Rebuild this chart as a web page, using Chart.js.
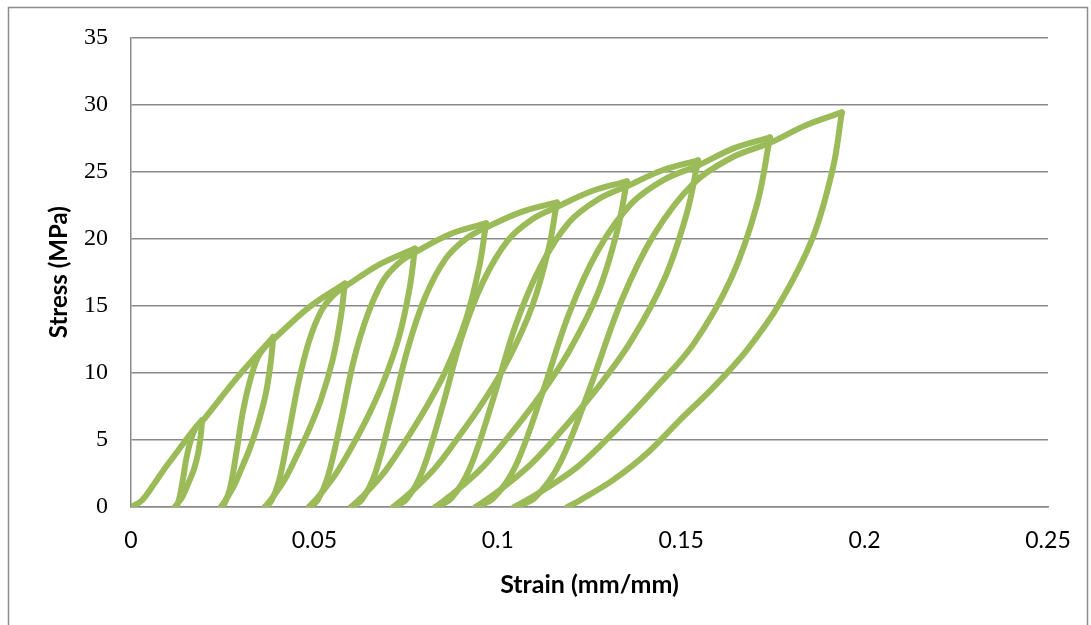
<!DOCTYPE html>
<html>
<head>
<meta charset="utf-8">
<script src="https://cdn.jsdelivr.net/npm/chart.js@4.4.1/dist/chart.umd.min.js"></script>
<style>
  html, body { margin: 0; padding: 0; background: #fff; }
  #wrap { position: relative; width: 1091px; height: 625px; }
</style>
</head>
<body>
<div id="wrap"><canvas id="chart" width="1091" height="625"></canvas></div>
<script>
// tick labels
const strainTicks = [0, 0.05, 0.1, 0.15, 0.2, 0.25];
const stressTicks = [0, 5, 10, 15, 20, 25, 30, 35];

// cyclic loading, one loop per cycle (reload up to peak, then unload)
const strain1 = [0, 0.003, 0.006, 0.009, 0.012, 0.015, 0.0175, 0.0194, 0.0190, 0.0183, 0.0172, 0.0161, 0.0150, 0.0139, 0.0127, 0.0120];
const stress1 = [0, 0.5, 1.6, 2.8, 3.9, 5.0, 5.9, 6.48, 5.31, 4.02, 2.85, 2.07, 1.36, 0.71, 0.26, 0];

const strain2 = [0.0120, 0.0126, 0.0133, 0.0142, 0.0151, 0.0161, 0.0172, 0.0183, 0.0194, 0.0291, 0.0388, 0.0381, 0.0367, 0.0345, 0.0324, 0.0302, 0.0281, 0.0259, 0.0245];
const stress2 = [0, 0.16, 0.78, 2.14, 3.63, 4.80, 5.67, 6.12, 6.38, 9.7, 12.68, 10.78, 8.37, 6.09, 4.37, 2.92, 1.59, 0.57, 0];

const strain3 = [0.0245, 0.0256, 0.0271, 0.0288, 0.0305, 0.0324, 0.0345, 0.0367, 0.0388, 0.0486, 0.0583, 0.0572, 0.0550, 0.0518, 0.0485, 0.0452, 0.0420, 0.0387, 0.0365];
const stress3 = [0, 0.32, 1.52, 4.18, 7.10, 9.38, 11.10, 11.98, 12.49, 14.9, 16.66, 14.16, 11.00, 8.00, 5.75, 3.83, 2.08, 0.75, 0];

const strain4 = [0.0365, 0.0382, 0.0404, 0.0430, 0.0457, 0.0485, 0.0518, 0.0550, 0.0583, 0.0679, 0.0774, 0.0760, 0.0731, 0.0687, 0.0644, 0.0601, 0.0557, 0.0514, 0.0485];
const stress4 = [0, 0.42, 2.00, 5.50, 9.33, 12.33, 14.58, 15.74, 16.41, 18.1, 19.26, 16.37, 12.71, 9.24, 6.64, 4.43, 2.41, 0.87, 0];

const strain5 = [0.0485, 0.0508, 0.0537, 0.0572, 0.0606, 0.0644, 0.0687, 0.0731, 0.0774, 0.0871, 0.0968, 0.0950, 0.0913, 0.0858, 0.0802, 0.0747, 0.0692, 0.0637, 0.0600];
const stress5 = [0, 0.48, 2.31, 6.36, 10.79, 14.25, 16.85, 18.20, 18.97, 20.35, 21.15, 17.98, 13.96, 10.15, 7.30, 4.86, 2.64, 0.95, 0];

const strain6 = [0.0600, 0.0629, 0.0666, 0.0710, 0.0755, 0.0802, 0.0858, 0.0913, 0.0968, 0.1065, 0.1161, 0.1139, 0.1094, 0.1027, 0.0960, 0.0893, 0.0827, 0.0760, 0.0715];
const stress6 = [0, 0.53, 2.54, 6.98, 11.84, 15.65, 18.51, 19.99, 20.83, 22.0, 22.7, 19.30, 14.98, 10.90, 7.83, 5.22, 2.84, 1.02, 0];

const strain7 = [0.0715, 0.0751, 0.0795, 0.0849, 0.0902, 0.0960, 0.1027, 0.1094, 0.1161, 0.1257, 0.1352, 0.1326, 0.1274, 0.1195, 0.1117, 0.1039, 0.0961, 0.0882, 0.0830];
const stress7 = [0, 0.57, 2.72, 7.49, 12.71, 16.80, 19.86, 21.45, 22.36, 23.55, 24.27, 20.63, 16.02, 11.65, 8.37, 5.58, 3.03, 1.09, 0];

const strain8 = [0.0830, 0.0872, 0.0924, 0.0987, 0.1049, 0.1117, 0.1195, 0.1274, 0.1352, 0.1449, 0.1546, 0.1516, 0.1455, 0.1364, 0.1273, 0.1182, 0.1092, 0.1001, 0.0940];
const stress8 = [0, 0.61, 2.91, 8.01, 13.59, 17.96, 21.24, 22.94, 23.91, 25.1, 25.84, 21.96, 17.05, 12.40, 8.91, 5.94, 3.23, 1.16, 0];

const strain9 = [0.0940, 0.0988, 0.1049, 0.1122, 0.1195, 0.1273, 0.1364, 0.1455, 0.1546, 0.1644, 0.1742, 0.1707, 0.1637, 0.1533, 0.1428, 0.1324, 0.1219, 0.1115, 0.1045];
const stress9 = [0, 0.65, 3.10, 8.53, 14.47, 19.12, 22.61, 24.42, 25.45, 26.75, 27.55, 22.59, 17.08, 12.12, 8.82, 5.79, 3.03, 1.10, 0];

const strain10 = [0.1045, 0.1101, 0.1170, 0.1254, 0.1338, 0.1428, 0.1533, 0.1637, 0.1742, 0.1840, 0.1938, 0.1914, 0.1859, 0.1769, 0.1679, 0.1587, 0.1497, 0.1407, 0.1314, 0.1224, 0.1190];
const stress10 = [0, 0.69, 3.31, 9.09, 15.43, 20.39, 24.11, 26.03, 27.14, 28.45, 29.41, 25.3, 20.1, 15.2, 11.7, 8.9, 6.5, 4.0, 2.0, 0.5, 0];

const cycles = [
    [strain1, stress1], [strain2, stress2], [strain3, stress3], [strain4, stress4], [strain5, stress5],
    [strain6, stress6], [strain7, stress7], [strain8, stress8], [strain9, stress9], [strain10, stress10]
];

const green = '#9bbb59';
const gridGray = '#898989';

// split every loop at its peak so the tip stays sharp
const datasets = [];
cycles.forEach(function ([sx, sy]) {
    const peak = sy.indexOf(Math.max(...sy));
    const pts = sx.map((x, i) => ({ x: x, y: sy[i] }));
    [pts.slice(0, peak + 1), pts.slice(peak)].forEach(function (part) {
        datasets.push({
            data: part,
            showLine: true,
            borderColor: green,
            backgroundColor: green,
            borderWidth: 6,
            borderJoinStyle: 'round',
            borderCapStyle: 'round',
            pointRadius: 0,
            tension: 0.35,
            fill: false
        });
    });
});

const frame = {
    id: 'frame',
    beforeDraw(chart) {
        const ctx = chart.ctx;
        ctx.save();
        ctx.fillStyle = '#fff';
        ctx.fillRect(0, 0, chart.width, chart.height);
        ctx.strokeStyle = '#8c8c8c';
        ctx.lineWidth = 1.5;
        ctx.strokeRect(8.5, 7.5, 1079, 700);
        ctx.restore();
    }
};

new Chart(document.getElementById('chart').getContext('2d'), {
    type: 'scatter',
    data: { datasets: datasets },
    plugins: [frame],
    options: {
        responsive: false,
        animation: false,
        layout: { padding: { left: 0, top: 37, right: 43, bottom: 0 } },
        plugins: { legend: { display: false }, tooltip: { enabled: false } },
        scales: {
            x: {
                type: 'linear',
                min: 0,
                max: 0.25,
                afterFit: function (scale) { scale.height = 118; },
                afterBuildTicks: function (scale) { scale.ticks = strainTicks.map(v => ({ value: v })); },
                grid: { display: false, drawTicks: false },
                border: { display: true, color: gridGray, width: 1.5 },
                ticks: {
                    padding: 20,
                    color: '#000',
                    font: { family: 'Lato', size: 23 },
                    callback: v => String(v)
                },
                title: {
                    display: true,
                    text: 'Strain (mm/mm)',
                    color: '#000',
                    font: { family: 'Lato', size: 25, weight: 'bold' },
                    padding: { top: 0, bottom: 25 }
                }
            },
            y: {
                min: 0,
                max: 35,
                afterFit: function (scale) { scale.width = 131; },
                afterBuildTicks: function (scale) { scale.ticks = stressTicks.map(v => ({ value: v })); },
                grid: { color: gridGray, lineWidth: 1.5, drawTicks: false },
                border: { display: true, color: gridGray, width: 1.5 },
                ticks: {
                    padding: 23,
                    color: '#000',
                    font: { family: 'Liberation Serif', size: 24 },
                    callback: v => String(v)
                },
                title: {
                    display: true,
                    text: 'Stress (MPa)',
                    color: '#000',
                    font: { family: 'Lato', size: 24, weight: 'bold' },
                    padding: { top: 45, bottom: 0 }
                }
            }
        }
    }
});
</script>
</body>
</html>
